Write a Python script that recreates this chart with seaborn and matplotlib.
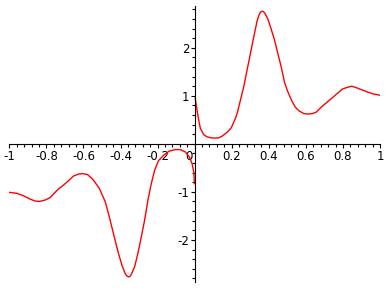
import numpy as np
import pandas as pd
import seaborn as sns
import matplotlib
matplotlib.use("Agg")
import matplotlib.pyplot as plt
from matplotlib.ticker import MultipleLocator, FixedLocator
import matplotlib.transforms as mtransforms

# Curve (two branches, broken at x = 0)
x_left = [-1.0, -0.96, -0.924, -0.888, -0.861, -0.838, -0.807, -0.780, -0.758,
          -0.735, -0.708, -0.681, -0.654, -0.627, -0.603, -0.578, -0.549, -0.514,
          -0.483, -0.465, -0.447, -0.429, -0.411, -0.392, -0.375, -0.366, -0.357,
          -0.349, -0.342, -0.324, -0.306, -0.288, -0.270, -0.252, -0.234, -0.216,
          -0.195, -0.168, -0.137, -0.104, -0.077, -0.050, -0.029, -0.014, -0.005,
          -0.001]
y_left = [-1.01, -1.03, -1.08, -1.15, -1.19, -1.20, -1.17, -1.12, -1.03,
          -0.94, -0.86, -0.77, -0.67, -0.63, -0.62, -0.64, -0.74, -0.93,
          -1.20, -1.45, -1.73, -2.01, -2.28, -2.53, -2.70, -2.75, -2.77,
          -2.76, -2.72, -2.56, -2.28, -1.94, -1.59, -1.17, -0.83, -0.55,
          -0.35, -0.24, -0.15, -0.12, -0.12, -0.17, -0.27, -0.41, -0.58,
          -0.83]

x_right = [0.003, 0.008, 0.013, 0.022, 0.031, 0.049, 0.067, 0.089, 0.112, 0.130,
           0.148, 0.175, 0.197, 0.220, 0.232, 0.247, 0.265, 0.283, 0.301, 0.319,
           0.337, 0.348, 0.355, 0.360, 0.364, 0.370, 0.377, 0.395, 0.412, 0.431,
           0.449, 0.467, 0.485, 0.499, 0.512, 0.526, 0.544, 0.562, 0.589, 0.613,
           0.635, 0.656, 0.679, 0.706, 0.743, 0.770, 0.797, 0.818, 0.847, 0.872,
           0.905, 0.932, 0.962, 0.991, 1.0]
y_right = [0.95, 0.82, 0.70, 0.49, 0.32, 0.19, 0.146, 0.125, 0.12, 0.125,
           0.16, 0.24, 0.33, 0.53, 0.67, 0.91, 1.19, 1.54, 1.88, 2.23,
           2.56, 2.69, 2.74, 2.755, 2.76, 2.755, 2.73, 2.60, 2.40, 2.16,
           1.88, 1.60, 1.28, 1.12, 1.00, 0.88, 0.76, 0.69, 0.63, 0.62,
           0.63, 0.66, 0.75, 0.84, 0.96, 1.05, 1.14, 1.17, 1.20, 1.17,
           1.12, 1.08, 1.04, 1.02, 1.01]

x_ticks = [-1, -0.8, -0.6, -0.4, -0.2, 0, 0.2, 0.4, 0.6, 0.8, 1]
x_tick_labels = ["-1", "-0.8", "-0.6", "-0.4", "-0.2", "0", "0.2", "0.4", "0.6", "0.8", "1"]
y_ticks = [-2, -1, 1, 2]
y_tick_labels = ["-2", "-1", "1", "2"]

df = pd.DataFrame({
    "x": x_left + x_right,
    "y": y_left + y_right,
    "branch": ["left"] * len(x_left) + ["right"] * len(x_right),
})

plt.rcParams["font.family"] = ["DejaVu Sans"]
plt.rcParams["axes.unicode_minus"] = False

fig = plt.figure(figsize=(3.88, 2.88), dpi=100, facecolor="white")
ax = fig.add_axes([9.3 / 388, 1 - 281.7 / 288, (380 - 9.3) / 388, (281.7 - 6) / 288])
ax.set_facecolor("white")

sns.lineplot(data=df, x="x", y="y", units="branch", estimator=None, sort=False,
             color="#ff0000", linewidth=1.0, ax=ax, legend=False)

ax.set_xlim(-1, 1)
ax.set_ylim(-2.87, 2.87)
ax.set_xlabel("")
ax.set_ylabel("")

for s in ["top", "right"]:
    ax.spines[s].set_visible(False)
ax.spines["left"].set_position(("data", 0))
ax.spines["bottom"].set_position(("data", 0))
for s in ["left", "bottom"]:
    ax.spines[s].set_linewidth(0.8)
    ax.spines[s].set_color("black")

ax.xaxis.set_major_locator(FixedLocator(x_ticks))
ax.set_xticklabels(x_tick_labels)
ax.xaxis.set_minor_locator(MultipleLocator(0.04))
ax.yaxis.set_major_locator(FixedLocator(y_ticks))
ax.set_yticklabels(y_tick_labels)
ax.yaxis.set_minor_locator(MultipleLocator(0.2))

ax.tick_params(axis="both", which="major", direction="out", length=3, width=0.8,
               labelsize=8.5, colors="black")
ax.tick_params(axis="both", which="minor", direction="out", length=2, width=0.8)
ax.tick_params(axis="x", which="major", pad=1.2)
ax.tick_params(axis="y", which="major", pad=0.6)

# shift the "0" label slightly left of the vertical axis, as in the reference
for lbl in ax.get_xticklabels():
    if lbl.get_text() == "0":
        lbl.set_transform(lbl.get_transform() +
                          mtransforms.ScaledTranslation(-6 / 100, 0, fig.dpi_scale_trans))

fig.savefig("out.png", dpi=100, facecolor="white")
